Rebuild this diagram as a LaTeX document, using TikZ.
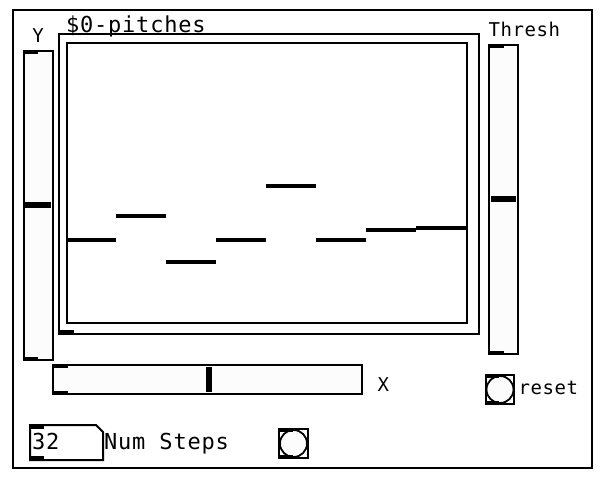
\documentclass[tikz,border=0pt]{standalone}
\usepackage{fontspec}
\newfontfamily\monoL[LetterSpace=3.5]{DejaVu Sans Mono}
\newfontfamily\monoS[LetterSpace=3.0]{DejaVu Sans Mono}
\definecolor{pdbg}{HTML}{FCFCFC}
\tikzset{
  frame/.style={draw=black, line width=2pt},
  slidebox/.style={draw=black, fill=pdbg, line width=2pt},
  knob/.style={line width=6pt},
  iomark/.style={line width=3.5pt},
  point/.style={line width=4pt},
  biglabel/.style={anchor=base west, inner sep=0pt, font=\monoL\fontsize{22}{26}\selectfont},
  smalllabel/.style={anchor=base west, inner sep=0pt, font=\monoS\fontsize{19}{23}\selectfont},
}
\begin{document}
\begin{tikzpicture}[x=1pt, y=-1pt]
\useasboundingbox (0,0) rectangle (608,484);
\fill[white] (0,0) rectangle (608,484);
% outer canvas frame
\draw[frame] (13,10) rectangle (592,468);

% Y slider
\draw[slidebox] (24,51) rectangle (53,360);
\draw[iomark] (23,52.5) -- (38,52.5);
\draw[iomark] (23,358.5) -- (38,358.5);
\draw[knob] (25,205) -- (51,205);
\node[smalllabel, anchor=base] (ylab) at (38,42.5) {Y};

% array
\draw[frame, fill=white] (59,34.5) rectangle (479,334);
\draw[frame] (67,43) rectangle (467,323);
\draw[line width=4pt] (58,331.5) -- (74,331.5);
\node[biglabel] (title) at (66,33) {\$0-pitches};
\draw[point] (67,240) -- (116,240);
\draw[point] (116,215.7) -- (166,215.7);
\draw[point] (166,261.7) -- (216,261.7);
\draw[point] (216,240) -- (266,240);
\draw[point] (266,186) -- (316,186);
\draw[point] (316,240) -- (366,240);
\draw[point] (366,230) -- (416,230);
\draw[point] (416,227.7) -- (466,227.7);

% Thresh slider
\draw[slidebox] (489,45) rectangle (518,354);
\draw[iomark] (488,46.5) -- (504,46.5);
\draw[iomark] (488,352.5) -- (504,352.5);
\draw[knob] (491,199) -- (516,199);
\node[smalllabel] (thresh) at (488.5,36.5) {Thresh};

% X slider
\draw[slidebox] (53,365) rectangle (362,394);
\draw[iomark] (52,366.5) -- (68,366.5);
\draw[iomark] (52,392.5) -- (68,392.5);
\draw[knob] (209,367) -- (209,392);
\node[smalllabel] (xlab) at (377.5,391.5) {X};

% reset bang
\draw[slidebox] (486,375) rectangle (514,404);
\draw[iomark] (485,376.5) -- (499,376.5);
\draw[iomark] (485,402.5) -- (499,402.5);
\draw[line width=1.8pt] (500,389.5) circle (13.5);
\node[smalllabel] (reset) at (518.5,394.5) {reset};

% number box
\draw[frame, fill=white] (30,425) -- (96,425) -- (103,432) -- (103,460) -- (30,460) -- cycle;
\fill[black] (28.5,424) rectangle (44,429);
\fill[black] (28.5,456) rectangle (44,461);
\node[biglabel] (num) at (32,449) {32};
\node[biglabel] (numlab) at (104,449) {Num Steps};

% bottom bang
\draw[slidebox] (279,429) rectangle (308,458);
\draw[iomark] (278,430.5) -- (293,430.5);
\draw[iomark] (278,456.5) -- (293,456.5);
\draw[line width=1.8pt] (293.5,443.5) circle (13.5);
\end{tikzpicture}
\end{document}
